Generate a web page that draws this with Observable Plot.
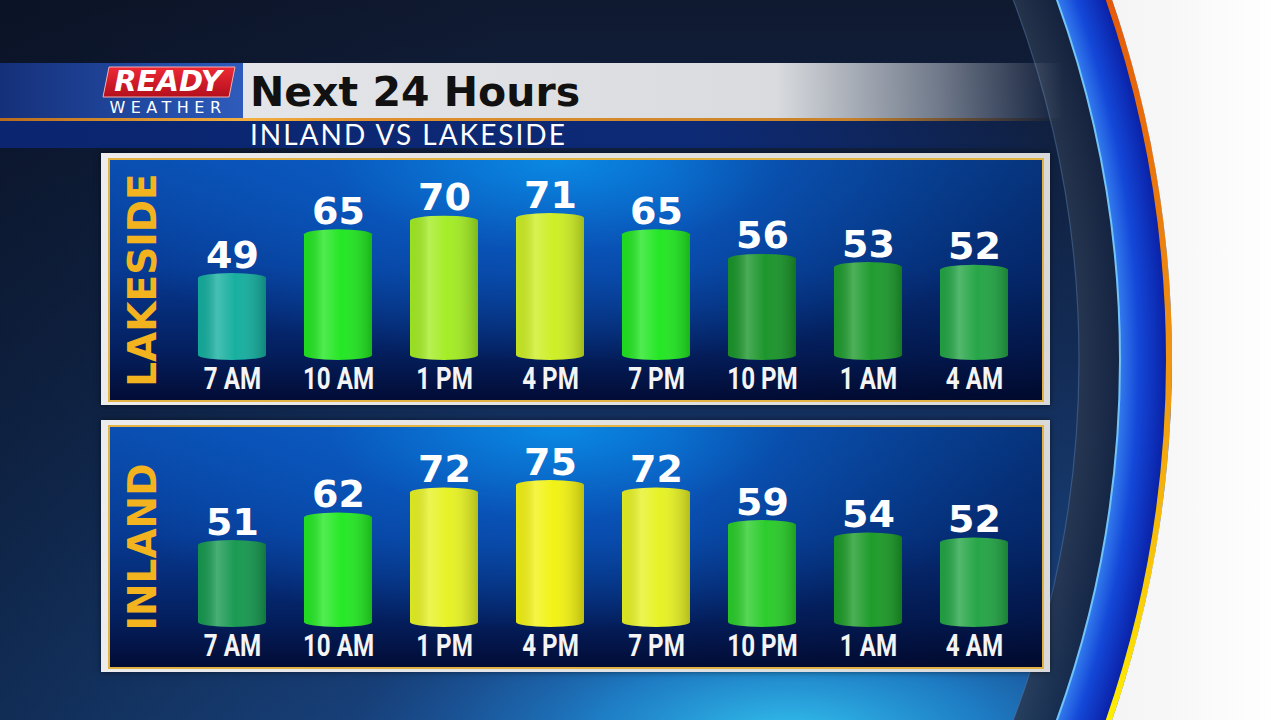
<!DOCTYPE html>
<html><head><meta charset="utf-8">
<script src="https://cdn.jsdelivr.net/npm/d3@7"></script>
<script src="https://cdn.jsdelivr.net/npm/@observablehq/plot@0.6"></script>
<style>
body{margin:0;width:1280px;height:720px;overflow:hidden;position:relative;background:#0f1a31;font-family:"DejaVu Sans",sans-serif}
.abs{position:absolute}
.panel{position:absolute;left:101px;width:949px;height:252px;box-sizing:border-box;background:linear-gradient(to right,#ececec,#d9d9d9);box-shadow:0 0 6px rgba(0,0,0,0.5)}
.inner{position:absolute;left:7px;top:5px;width:936px;height:244px;box-sizing:border-box;border:2px solid #e2b242;
 background:
  radial-gradient(ellipse 55% 85% at 48% 0%, rgba(10,140,230,0.95) 0%, rgba(10,95,200,0.6) 45%, rgba(10,60,150,0) 100%),
  linear-gradient(to bottom,#0a4cae 0%,#073a93 45%,#041f5e 80%,#020c35 100%);}
.inner .fade{position:absolute;inset:0;background:linear-gradient(to right,rgba(0,0,0,0) 60%,rgba(0,5,30,0.35) 100%)}
.plotbox{position:absolute;left:0;top:0}
</style></head>
<body>
<svg width="0" height="0" style="position:absolute">
 <defs>
  <linearGradient id="cyl" x1="0" x2="1" y1="0" y2="0">
   <stop offset="0" stop-color="#000" stop-opacity="0.05"/>
   <stop offset="0.28" stop-color="#fff" stop-opacity="0.22"/>
   <stop offset="0.55" stop-color="#fff" stop-opacity="0.02"/>
   <stop offset="1" stop-color="#000" stop-opacity="0.22"/>
  </linearGradient>
 </defs>
</svg>

<!-- background -->
<svg class="abs" style="left:0;top:0" width="1280" height="720">
 <defs>
  <linearGradient id="bgv" x1="0" y1="0" x2="0" y2="1">
   <stop offset="0" stop-color="#0f1930"/>
   <stop offset="0.5" stop-color="#132c56"/>
   <stop offset="1" stop-color="#1a4888"/>
  </linearGradient>
  <linearGradient id="bgh" x1="0" y1="0" x2="1" y2="0">
   <stop offset="0" stop-color="#060b18" stop-opacity="0.45"/>
   <stop offset="0.4" stop-color="#060b18" stop-opacity="0"/>
  </linearGradient>
  <radialGradient id="glow" gradientUnits="userSpaceOnUse" cx="790" cy="740" r="440" gradientTransform="translate(790 740) scale(1 0.42) translate(-790 -740)">
   <stop offset="0" stop-color="#34c6f0" stop-opacity="1"/>
   <stop offset="0.45" stop-color="#1f8ad4" stop-opacity="0.8"/>
   <stop offset="1" stop-color="#1a5aa8" stop-opacity="0"/>
  </radialGradient>
  <linearGradient id="oy" gradientUnits="userSpaceOnUse" x1="0" y1="0" x2="0" y2="720">
   <stop offset="0" stop-color="#e55a0a"/>
   <stop offset="0.55" stop-color="#f09a12"/>
   <stop offset="1" stop-color="#ffef00"/>
  </linearGradient>
  <radialGradient id="blue" gradientUnits="userSpaceOnUse" cx="60" cy="360" r="1106">
   <stop offset="0.955" stop-color="#3a86f2"/>
   <stop offset="0.975" stop-color="#1448d8"/>
   <stop offset="1" stop-color="#0a22a8"/>
  </radialGradient>
  <radialGradient id="dark" gradientUnits="userSpaceOnUse" cx="60" cy="360" r="1060">
   <stop offset="0.96" stop-color="#2a3850"/>
   <stop offset="1" stop-color="#15233f"/>
  </radialGradient>
  <linearGradient id="white" x1="0" y1="0" x2="1" y2="0">
   <stop offset="0.8" stop-color="#e6e6e6"/>
   <stop offset="0.95" stop-color="#f7f7f7"/>
   <stop offset="1" stop-color="#ffffff"/>
  </linearGradient>
 </defs>
 <rect width="1280" height="720" fill="url(#bgv)"/>
 <rect width="1280" height="720" fill="url(#bgh)"/>
 <rect width="1280" height="720" fill="url(#glow)"/>
 <circle cx="60" cy="360" r="1039" fill="none" stroke="url(#dark)" stroke-width="40" opacity="0.85"/>
 <circle cx="60" cy="360" r="1019" fill="none" stroke="#5478a8" stroke-width="1.2" opacity="0.5"/>
 <circle cx="60" cy="360" r="1083" fill="none" stroke="url(#blue)" stroke-width="46"/>
 <circle cx="60" cy="360" r="1060" fill="none" stroke="#72c4f8" stroke-width="2"/>
 <circle cx="60" cy="360" r="1109" fill="none" stroke="url(#oy)" stroke-width="6"/>
 <path fill="url(#white)" fill-rule="evenodd" d="M0,0H1280V720H0Z M-1052,360a1112,1112 0 1,0 2224,0a1112,1112 0 1,0 -2224,0Z"/>
</svg>

<!-- header -->
<div class="abs" style="left:0;top:63px;width:243px;height:55px;background:linear-gradient(to right,#15307a,#2550ac 75%,#2f5cbc)"></div>
<div class="abs" style="left:243px;top:63px;width:820px;height:55px;background:linear-gradient(to right,#e3e5e8 0%,#d9dbde 65%,rgba(190,196,204,0.55) 85%,rgba(190,196,204,0) 100%)"></div>
<div class="abs" style="left:0;top:121px;width:1060px;height:27px;background:linear-gradient(to right,#0b2570,#0d2a76 65%,rgba(13,42,118,0.4) 88%,rgba(13,42,118,0))"></div>
<div class="abs" style="left:0;top:118px;width:1060px;height:3px;background:linear-gradient(to right,#b86c1e,#f3b040 23%,#e0902c 35%,#c9822a 80%,rgba(200,130,40,0))"></div>
<svg class="abs" style="left:0;top:0" width="1280" height="160">
 <defs>
  <linearGradient id="red" x1="0" y1="0" x2="0" y2="1">
   <stop offset="0" stop-color="#ee2a36"/>
   <stop offset="1" stop-color="#b30f1c"/>
  </linearGradient>
 </defs>
 <path d="M109,67H235L229,97H103Z" fill="url(#red)" stroke="#f3b0b0" stroke-width="1"/>
 <text id="ready" x="168" y="91" text-anchor="middle" font-family="DejaVu Sans" font-weight="bold" font-style="italic" font-size="29" fill="#fff">READY</text>
 <text id="wx" x="168" y="113" text-anchor="middle" font-family="DejaVu Sans" font-size="16" letter-spacing="5.5" fill="#fff">WEATHER</text>
 <text id="ttl" x="250" y="106" font-family="DejaVu Sans" font-weight="bold" font-size="41" fill="#111"></text>
 <text id="sub" x="250" y="145" font-family="Lato" font-size="28" letter-spacing="2" fill="#fff"></text>
</svg>

<div class="panel" style="top:153px"><div class="inner"><div class="fade"></div><div class="plotbox" id="p0"></div></div></div>
<div class="panel" style="top:420px"><div class="inner"><div class="fade"></div><div class="plotbox" id="p1"></div></div></div>

<script>
// ---- data ----
const title = "Next 24 Hours";
const subtitle = "INLAND VS LAKESIDE";
const regions = ["LAKESIDE", "INLAND"];
const times = ["7 AM", "10 AM", "1 PM", "4 PM", "7 PM", "10 PM", "1 AM", "4 AM"];
const lakeside = [49, 65, 70, 71, 65, 56, 53, 52];
const inland = [51, 62, 72, 75, 72, 59, 54, 52];

// temperature colour scale (domain -> colour)
const colorDomain = [49, 51, 52, 53, 54, 56, 59, 62, 65, 70, 71, 72, 75];
const colorRange = ["#13ae9e", "#15984f", "#22a444", "#1c9a2c", "#1a9a26", "#189428", "#28cc28", "#22e822", "#20e620", "#a2ec22", "#cdee22", "#e6f222", "#f2f212"];

document.getElementById("ttl").textContent = title;
document.getElementById("sub").textContent = subtitle;

function panel(region, values) {
  const rows = times.map((t, i) => ({time: t, temp: values[i]}));
  const [lo, hi] = d3.extent(values);
  // each panel scales its own range: min bar ~87px tall, max bar ~147px tall
  const base = lo - (hi - lo) * 87 / 60;
  const svg = Plot.plot({
    width: 932, height: 240,
    marginLeft: 66, marginRight: 11, marginTop: 53, marginBottom: 40,
    x: {domain: times, paddingInner: 0.355, paddingOuter: 0.1775, axis: null},
    y: {domain: [base, hi], axis: null},
    color: {type: "linear", domain: colorDomain, range: colorRange},
    style: {background: "transparent", color: "white", overflow: "visible"},
    marks: [
      Plot.barY(rows, {x: "time", y1: base, y2: "temp", fill: "temp", rx: 34, ry: 5}),
      Plot.barY(rows, {x: "time", y1: base, y2: "temp", fill: "url(#cyl)", rx: 34, ry: 5}),
      Plot.text(rows, {x: "time", y: "temp", text: d => String(d.temp), dy: -6, lineAnchor: "bottom",
        fontSize: 38, fontWeight: "bold", fill: "white", fontFamily: "DejaVu Sans"}),
      Plot.axisX({tickSize: 0, tickPadding: 6, fontSize: 31, fontWeight: "bold", label: null,
        fontFamily: "Roboto, sans-serif", fill: "#f4f4f4"}),
      Plot.text([region], {frameAnchor: "left", dx: -33, dy: -7, rotate: -90, fontSize: 39, fontWeight: "bold",
        fill: "#f2b31e", fontFamily: "DejaVu Sans", textAnchor: "middle", lineAnchor: "middle"})
    ]
  });
  // condensed look for the time labels
  svg.querySelectorAll('[aria-label="x-axis tick label"] text').forEach(t => {
    const tr = t.getAttribute("transform") || "";
    t.setAttribute("transform", tr + " scale(0.78,1)");
  });
  return svg;
}

document.getElementById("p0").append(panel(regions[0], lakeside));
document.getElementById("p1").append(panel(regions[1], inland));
</script>
</body></html>
